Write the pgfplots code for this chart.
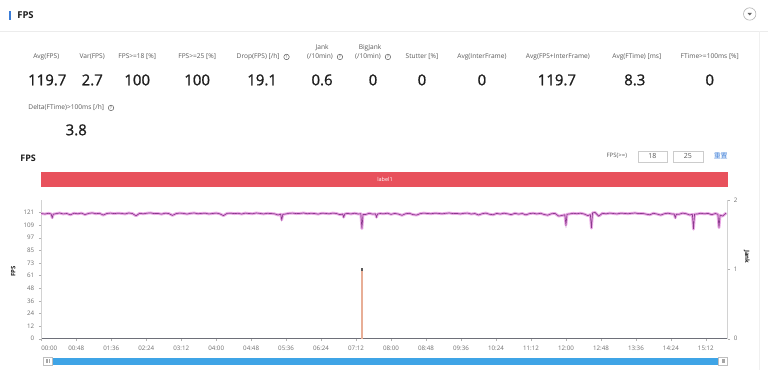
\documentclass[border=0pt]{standalone}
\usepackage{pgfplots}
\pgfplotsset{compat=1.18}
\usepackage{pgfplotstable}
\usepackage{fontspec}
\setmainfont{Open Sans}
\newfontfamily\semib[FakeBold=0.9]{Open Sans}
\newfontfamily\cjk{Noto Sans CJK SC}
\definecolor{haloc}{HTML}{EBA8E6}
\definecolor{corec}{HTML}{8A3A8C}
\definecolor{jankc}{HTML}{E8AE96}
\definecolor{redbar}{HTML}{E8515C}
\definecolor{lblc}{HTML}{5A5A5A}
\definecolor{valc}{HTML}{1E1E1E}
\definecolor{tickc}{HTML}{707070}
\definecolor{axc}{HTML}{6E7079}
\definecolor{scrollc}{HTML}{3FA4E6}
\definecolor{linkc}{HTML}{3B7DD8}

\pgfplotstableread{
t v
0 120
5 119.5
10 120.2
13.5 119.6
15 116
16.5 119.4
20 119.8
25 120.5
30 119.6
35 120
40 118.8
45 120.3
50 119.7
55 120.4
60 119
65 120.1
70 120.6
75 119.8
80 120.2
85 118.5
90 120
95 120.4
100 119.9
105 120.3
110 120.1
115 119.6
120 120.5
125 120
130 117.8
135 120.2
140 119.7
145 120.3
150 120.6
155 119.9
160 120.1
165 119.4
170 120.3
175 120
180 118.2
185 119.9
190 120.4
195 120.1
200 119.5
205 120.2
210 120.5
215 119.8
220 120.1
225 120.3
230 119.6
235 120
240 120.4
245 119.7
250 118
255 120.1
260 120.3
265 119.9
270 120.2
275 119.5
280 120.4
285 120
290 119.8
295 120.5
300 120.1
305 119.6
310 120.2
315 120
320 119.7
325 118.6
328.5 119.4
330 114
331.5 119.2
335 119.5
340 120.2
345 120.4
350 119.9
355 120.1
360 120.5
365 119.8
370 120.2
375 120
380 119.4
385 120.3
390 120.1
395 119.7
400 120.4
405 120
410 118.9
413.5 119.5
415 116.5
416.5 119.6
420 120.1
425 119.6
430 120.3
435 119.5
438.5 119.8
440 105.5
441.5 119
445 119
450 120.2
455 119.4
458.5 119.7
460 116.5
461.5 119.5
465 120
470 119.7
475 120.3
480 119.2
485 120.1
490 119.5
495 118.3
500 119.8
505 120.2
510 119
515 118.5
520 119.9
525 120.4
530 120
535 119.8
540 120.3
545 120.1
550 119.7
555 120.2
560 120.5
565 119.9
570 120.1
575 119.6
580 120.2
585 120.4
590 119.5
595 120
600 118.6
605 119.8
610 120.4
615 119.3
620 118.8
625 120.1
630 119.5
635 120.3
640 119.7
645 118.9
650 120.2
655 119.4
660 120
665 118.7
670 119.9
675 120.3
680 119.6
685 120.2
690 119.1
695 118.4
700 119.8
705 120.1
710 117.5
715 118.2
718.5 118.8
720 109
721.5 119.3
725 119.6
730 120.2
735 119.8
740 120.3
745 119.5
750 118
753.5 118.9
755 106
756.5 120.6
760 121
765 117.5
770 120.2
775 119.7
780 120.4
785 120
790 119.6
795 120.3
800 120.1
805 119.8
810 120.2
815 120.5
820 119.9
825 120.1
830 119.4
835 118.8
840 120.2
845 119.5
850 118.5
855 119.8
860 120.3
865 119.6
868.5 119.5
870 116
871.5 119.3
875 119.2
880 120.4
885 119.8
890 118.6
893.5 119.2
895 105
896.5 119.4
900 119.5
905 120.2
910 119.7
915 120.1
920 118.9
925 120
928.5 119.3
930 106.5
931.5 118.4
935 117.6
940 120.5
}\fpsdata

\newcommand{\lbl}{\fontsize{6.6}{7.5}\selectfont\color{lblc}}
\newcommand{\val}{\fontsize{15}{16}\selectfont\semib\color{valc}}
\newcommand{\qicon}[1]{\node[circle,draw=lblc,line width=0.5pt,inner sep=0pt,minimum size=5.5pt,anchor=west,font=\fontsize{4}{4}\selectfont,text=lblc] at ([xshift=0.5pt]#1.east) {?};}

\begin{document}
\begin{tikzpicture}[x=1pt,y=1pt]
\fill[white] (0,0) rectangle (768,370);
% header
\fill[linkc] (9,350) rectangle (10.6,359);
\node[anchor=west,font=\fontsize{9.5}{10}\selectfont\bfseries,text=valc] at (13.5,354.5) {FPS};
\draw[gray!60,line width=0.6pt] (750,356) circle (6.2);
\fill[gray!80!black] (747.8,357) -- (752.2,357) -- (750,354.6) -- cycle;
\draw[gray!15,line width=0.6pt] (0,338.5) -- (768,338.5);
\draw[gray!12,line width=0.5pt] (760,338.5) -- (760,0);

% metric labels
\node[font=\lbl] at (46,313) {Avg(FPS)};
\node[font=\lbl] at (92,313) {Var(FPS)};
\node[font=\lbl] at (137,313) {FPS>=18 [\%]};
\node[font=\lbl] at (197,313) {FPS>=25 [\%]};
\node[font=\lbl] (drop) at (258,313) {Drop(FPS) [/h]}; \qicon{drop}
\node[font=\lbl] at (322,322) {Jank};
\node[font=\lbl] (jk) at (320,313) {(/10min)}; \qicon{jk}
\node[font=\lbl] at (370,322) {BigJank};
\node[font=\lbl] (bj) at (368,313) {(/10min)}; \qicon{bj}
\node[font=\lbl] at (422,313) {Stutter [\%]};
\node[font=\lbl] at (482,313) {Avg(InterFrame)};
\node[font=\lbl] at (558,313) {Avg(FPS+InterFrame)};
\node[font=\lbl] at (637,313) {Avg(FTime) [ms]};
\node[font=\lbl] at (710,313) {FTime>=100ms [\%]};
\node[font=\lbl] (dl) at (66,262) {Delta(FTime)>100ms [/h]}; \qicon{dl}

% metric values
\node[font=\val] at (47,290) {119.7};
\node[font=\val] at (92,290) {2.7};
\node[font=\val] at (137,290) {100};
\node[font=\val] at (197,290) {100};
\node[font=\val] at (262,290) {19.1};
\node[font=\val] at (322,290) {0.6};
\node[font=\val] at (373,290) {0};
\node[font=\val] at (422,290) {0};
\node[font=\val] at (482,290) {0};
\node[font=\val] at (557,290) {119.7};
\node[font=\val] at (635,290) {8.3};
\node[font=\val] at (710,290) {0};
\node[font=\val] at (76,240) {3.8};

% chart header
\node[anchor=west,font=\fontsize{9}{10}\selectfont\bfseries,text=valc] at (16.5,212) {FPS};
\node[font=\fontsize{6}{7}\selectfont,text=lblc] at (617,214) {FPS(>=)};
\draw[gray!40,line width=0.5pt] (638,208) rectangle (667,219);
\node[font=\fontsize{7}{8}\selectfont,text=lblc] at (652.5,213.5) {18};
\draw[gray!40,line width=0.5pt] (673,208) rectangle (703,219);
\node[font=\fontsize{7}{8}\selectfont,text=lblc] at (688,213.5) {25};
\node[font=\fontsize{7}{8}\selectfont\cjk,text=linkc] at (721,214) {重置};
\fill[redbar] (41,183) rectangle (728,198);
\node[font=\fontsize{5.5}{6}\selectfont,text=white] at (385,190.5) {label1};

% axis labels
\node[rotate=90,font=\fontsize{6}{7}\selectfont\bfseries,text=valc] at (13,98) {FPS};
\node[rotate=-90,font=\fontsize{6}{7}\selectfont\bfseries,text=valc] at (747,113) {Jank};

% scrollbar
\fill[scrollc] (50,5) rectangle (720,12);
\draw[gray!50,fill=white,line width=0.5pt] (43,4.5) rectangle (51.5,12.5);
\draw[gray!70,line width=0.4pt] (46,6.5)--(46,10.5) (47.25,6.5)--(47.25,10.5) (48.5,6.5)--(48.5,10.5);
\draw[gray!50,fill=white,line width=0.5pt] (719,4.5) rectangle (727.5,12.5);
\draw[gray!70,line width=0.4pt] (722,6.5)--(722,10.5) (723.25,6.5)--(723.25,10.5) (724.5,6.5)--(724.5,10.5);

\begin{axis}[
  at={(41pt,31pt)}, anchor=south west, scale only axis,
  width=687pt, height=139pt,
  xmin=0, xmax=942, ymin=0, ymax=133.1,
  axis x line*=bottom, axis y line*=left,
  x axis line style={draw=axc,line width=0.9pt},
  y axis line style={draw=gray!35,line width=0.5pt},
  tick align=outside, major tick length=2.5pt,
  tick style={draw=gray!60,line width=0.4pt},
  xtick={0,48,96,144,192,240,288,336,384,432,480,528,576,624,672,720,768,816,864,912},
  xticklabels={\rlap{00:00},00:48,01:36,02:24,03:12,04:00,04:48,05:36,06:24,07:12,08:00,08:48,09:36,10:24,11:12,12:00,12:48,13:36,14:24,15:12},
  ytick={0,12.1,24.2,36.3,48.4,60.5,72.6,84.7,96.8,108.9,121},
  yticklabels={0,12,24,36,48,61,73,85,97,109,121},
  /pgf/number format/assume math mode=true,
  ticklabel style={font=\fontsize{6.2}{7}\selectfont,text=tickc},
  xticklabel style={yshift=-1pt},
  yticklabel style={xshift=-1pt},
  clip=false,
]
\addplot[color=haloc, line width=2.8pt, line join=round] table[x=t,y=v] {\fpsdata};
\addplot[color=corec, line width=0.65pt, line join=miter] table[x=t,y=v] {\fpsdata};
\end{axis}

\begin{axis}[
  at={(41pt,31pt)}, anchor=south west, scale only axis,
  width=687pt, height=139pt,
  xmin=0, xmax=942, ymin=0, ymax=2,
  axis x line=none, axis y line*=right,
  y axis line style={draw=gray!35,line width=0.5pt},
  tick align=outside, major tick length=2.5pt,
  tick style={draw=gray!60,line width=0.4pt},
  ytick={0,1,2},
  /pgf/number format/assume math mode=true,
  ticklabel style={font=\fontsize{6.2}{7}\selectfont,text=tickc},
  clip=false,
]
\addplot[ycomb, draw=jankc, line width=1.2pt, no markers] coordinates {(440,1)};
\addplot[only marks, mark=square*, mark size=0.6pt, color=gray!70!black] coordinates {(440,1)};
\end{axis}
\end{tikzpicture}
\end{document}
